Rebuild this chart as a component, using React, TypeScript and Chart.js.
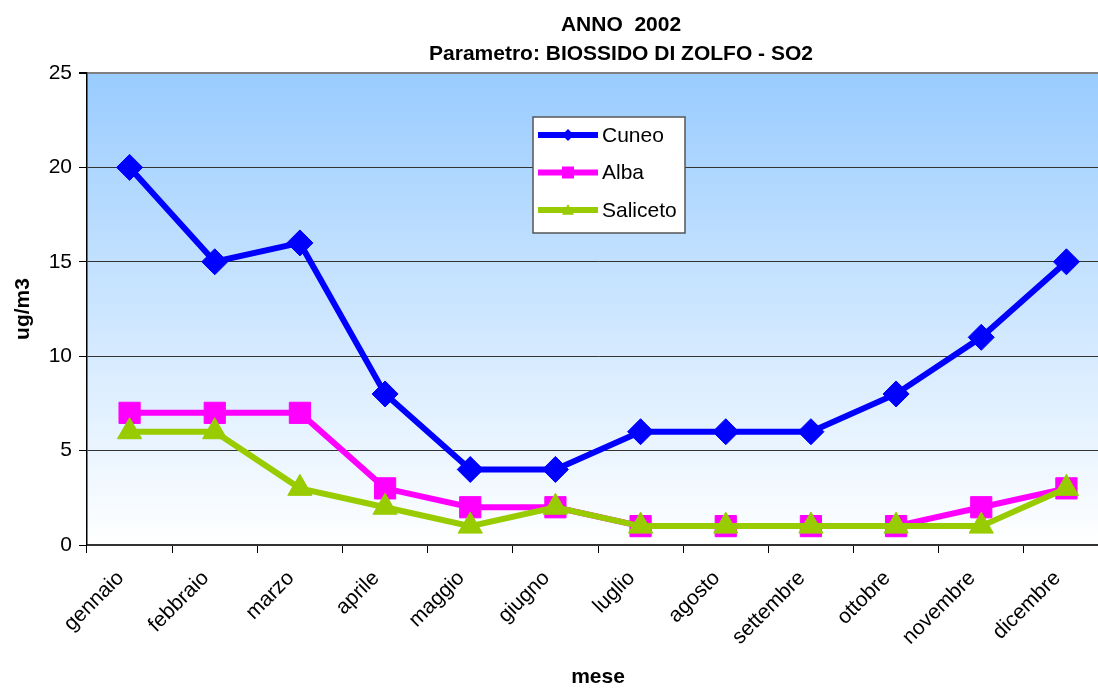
import { useEffect, useRef } from 'react';
import { Chart, registerables } from 'chart.js';

Chart.register(...registerables);

// Monthly SO2 averages (ug/m3), 2002
const MONTHS = [
  'gennaio', 'febbraio', 'marzo', 'aprile', 'maggio', 'giugno',
  'luglio', 'agosto', 'settembre', 'ottobre', 'novembre', 'dicembre',
];
const CUNEO = [20, 15, 16, 8, 4, 4, 6, 6, 6, 8, 11, 15];
const ALBA = [7, 7, 7, 3, 2, 2, 1, 1, 1, 1, 2, 3];
const SALICETO = [6, 6, 3, 2, 1, 2, 1, 1, 1, 1, 1, 3];

const SERIES_NAMES = ['Cuneo', 'Alba', 'Saliceto'];
const SERIES_COLORS = ['#0000FF', '#FF00FF', '#99CC00'];

const TITLE_LINES = ['ANNO  2002', 'Parametro: BIOSSIDO DI ZOLFO - SO2'];
const Y_TITLE = 'ug/m3';
const X_TITLE = 'mese';
const Y_MIN = 0;
const Y_MAX = 25;
const Y_STEP = 5;

const FONT = '"Liberation Sans", Arial, sans-serif';
const CANVAS_W = 1125;
const CANVAS_H = 690;

type Shape = 'diamond' | 'square' | 'triangle';
const LEGEND_SHAPES: Shape[] = ['diamond', 'square', 'triangle'];

function drawShape(ctx: CanvasRenderingContext2D, shape: Shape, x: number, y: number, r: number) {
  ctx.beginPath();
  if (shape === 'diamond') {
    ctx.moveTo(x, y - r);
    ctx.lineTo(x + r, y);
    ctx.lineTo(x, y + r);
    ctx.lineTo(x - r, y);
  } else if (shape === 'square') {
    ctx.rect(x - r, y - r, 2 * r, 2 * r);
  } else {
    ctx.moveTo(x, y - r);
    ctx.lineTo(x + r, y + r * 0.8);
    ctx.lineTo(x - r, y + r * 0.8);
  }
  ctx.closePath();
  ctx.fill();
}

// White page + blue-to-white gradient plot background
const backgroundPlugin = {
  id: 'plotBackground',
  beforeDraw(chart: Chart) {
    const { ctx, chartArea, width, height } = chart;
    ctx.save();
    ctx.fillStyle = '#FFFFFF';
    ctx.fillRect(0, 0, width, height);
    const g = ctx.createLinearGradient(0, chartArea.top, 0, chartArea.bottom);
    g.addColorStop(0, '#99CCFF');
    g.addColorStop(1, '#FFFFFF');
    ctx.fillStyle = g;
    ctx.fillRect(chartArea.left, chartArea.top, chartArea.right - chartArea.left, chartArea.bottom - chartArea.top);
    ctx.restore();
  },
};

// Two-line bold heading
const headingPlugin = {
  id: 'heading',
  afterDraw(chart: Chart) {
    const { ctx } = chart;
    ctx.save();
    ctx.fillStyle = '#000';
    ctx.font = `bold 21px ${FONT}`;
    ctx.textAlign = 'center';
    ctx.textBaseline = 'middle';
    TITLE_LINES.forEach((line, i) => ctx.fillText(line, 621, 25 + i * 29));
    ctx.restore();
  },
};

// Boxed legend placed inside the plot
const boxLegendPlugin = {
  id: 'boxLegend',
  afterDatasetsDraw(chart: Chart) {
    const { ctx } = chart;
    const left = 533, top = 117, w = 152, h = 116;
    ctx.save();
    ctx.fillStyle = '#FFFFFF';
    ctx.fillRect(left, top, w, h);
    ctx.strokeStyle = '#555';
    ctx.lineWidth = 1.5;
    ctx.strokeRect(left, top, w, h);
    SERIES_NAMES.forEach((name, i) => {
      const y = 135 + i * 37.5;
      ctx.strokeStyle = SERIES_COLORS[i];
      ctx.fillStyle = SERIES_COLORS[i];
      ctx.lineWidth = 6;
      ctx.beginPath();
      ctx.moveTo(538, y);
      ctx.lineTo(598, y);
      ctx.stroke();
      drawShape(ctx, LEGEND_SHAPES[i], 568, y, 6);
      ctx.fillStyle = '#000';
      ctx.font = `21px ${FONT}`;
      ctx.textAlign = 'left';
      ctx.textBaseline = 'middle';
      ctx.fillText(name, 602, y + 1);
    });
    ctx.restore();
  },
};

export default function App() {
  const canvasRef = useRef<HTMLCanvasElement>(null);

  useEffect(() => {
    const canvas = canvasRef.current;
    if (!canvas) return;
    Chart.defaults.font.family = FONT;
    const chart = new Chart(canvas, {
      type: 'line',
      data: {
        labels: MONTHS,
        datasets: [
          {
            label: SERIES_NAMES[0],
            data: CUNEO,
            borderColor: SERIES_COLORS[0],
            backgroundColor: SERIES_COLORS[0],
            borderWidth: 6,
            pointStyle: 'rectRot',
            pointRadius: 13,
            pointBorderWidth: 1,
            order: 2,
          },
          {
            label: SERIES_NAMES[1],
            data: ALBA,
            borderColor: SERIES_COLORS[1],
            backgroundColor: SERIES_COLORS[1],
            borderWidth: 6,
            pointStyle: 'rect',
            pointRadius: 15,
            pointBorderWidth: 1,
            order: 1,
          },
          {
            label: SERIES_NAMES[2],
            data: SALICETO,
            borderColor: SERIES_COLORS[2],
            backgroundColor: SERIES_COLORS[2],
            borderWidth: 6,
            pointStyle: 'triangle',
            pointRadius: 14,
            pointBorderWidth: 1,
            order: 0,
          },
        ],
      },
      options: {
        responsive: false,
        animation: false,
        layout: { padding: { top: 73, right: 6, left: 0, bottom: 0 } },
        elements: { line: { tension: 0 } },
        plugins: {
          legend: { display: false },
          title: { display: false },
          tooltip: { enabled: false },
        },
        scales: {
          x: {
            offset: true,
            grid: {
              offset: true,
              drawOnChartArea: false,
              drawTicks: true,
              tickLength: 8,
              color: '#000',
            },
            border: { display: true, color: '#333', width: 1.5 },
            ticks: {
              autoSkip: false,
              minRotation: 45,
              maxRotation: 45,
              padding: 13,
              labelOffset: -9,
              color: '#000',
              font: { size: 21, family: FONT },
            },
            title: {
              display: true,
              text: X_TITLE,
              color: '#000',
              font: { size: 21, weight: 'bold', family: FONT },
              padding: { top: 0, bottom: 0 },
            },
            afterFit(scale: any) {
              scale.height = CANVAS_H - 545;
            },
          },
          y: {
            min: Y_MIN,
            max: Y_MAX,
            ticks: {
              stepSize: Y_STEP,
              padding: 7,
              color: '#000',
              font: { size: 21, family: FONT },
            },
            grid: {
              drawTicks: true,
              tickLength: 8,
              color: (c: any) => (c.tick && c.tick.value === Y_MAX ? '#808080' : '#333'),
              lineWidth: (c: any) => (c.tick && c.tick.value === Y_MAX ? 2 : 1),
              tickColor: '#000',
            },
            border: { display: true, color: '#000', width: 1.5 },
            title: {
              display: true,
              text: Y_TITLE,
              color: '#000',
              font: { size: 21, weight: 'bold', family: FONT },
              padding: { top: 11, bottom: 0 },
            },
            afterFit(scale: any) {
              scale.width = 87;
            },
          },
        },
      },
      plugins: [backgroundPlugin, headingPlugin, boxLegendPlugin],
    });
    return () => chart.destroy();
  }, []);

  return (
    <div
      style={{
        position: 'fixed',
        left: 0,
        top: 0,
        width: 1098,
        height: 690,
        overflow: 'hidden',
        background: '#fff',
      }}
    >
      <canvas ref={canvasRef} width={CANVAS_W} height={CANVAS_H} style={{ display: 'block' }} />
    </div>
  );
}
